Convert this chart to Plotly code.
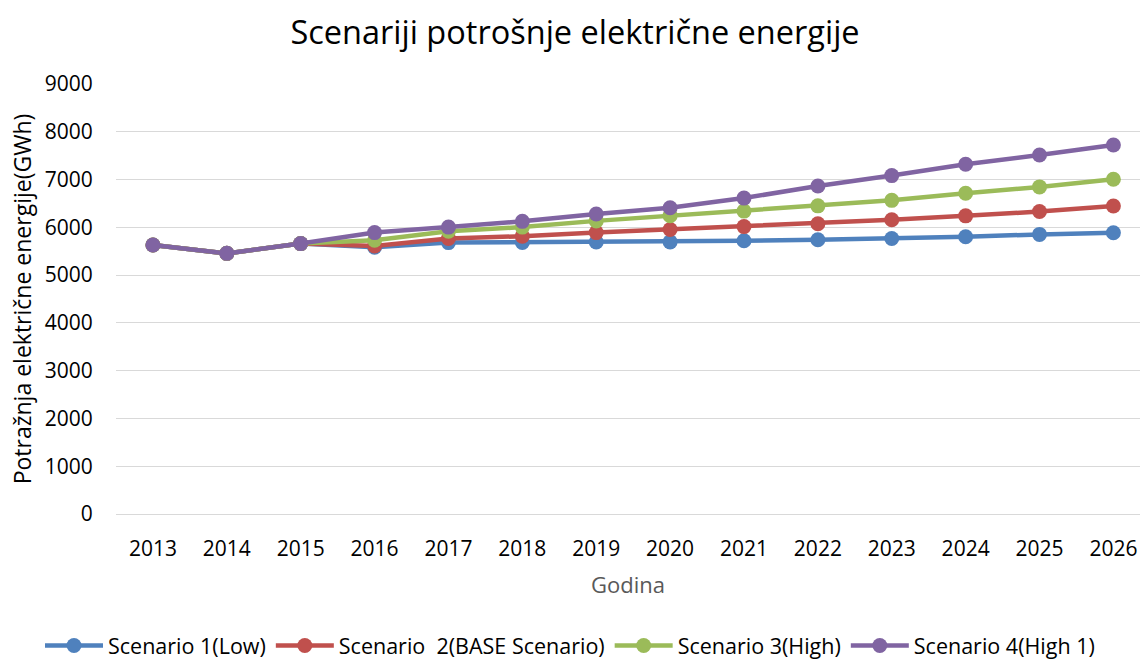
import plotly.graph_objects as go

years = [2013, 2014, 2015, 2016, 2017, 2018, 2019, 2020, 2021, 2022, 2023, 2024, 2025, 2026]
low = [5630, 5455, 5660, 5585, 5680, 5685, 5692, 5695, 5720, 5740, 5765, 5802, 5852, 5888]
base = [5630, 5455, 5660, 5610, 5765, 5815, 5890, 5955, 6015, 6075, 6160, 6240, 6330, 6445]
high = [5630, 5455, 5660, 5730, 5920, 6005, 6135, 6245, 6340, 6450, 6565, 6712, 6846, 7005]
high1 = [5630, 5455, 5660, 5890, 6005, 6125, 6280, 6410, 6612, 6866, 7083, 7320, 7515, 7722]

names = ["Scenario 1(Low)", "Scenario  2(BASE Scenario)", "Scenario 3(High)", "Scenario 4(High 1)"]
series = [low, base, high, high1]
colors = ["#4F81BD", "#C0504D", "#9BBB59", "#8064A2"]

FONT = "Open Sans"
W, H = 1140, 668
L, T, B, R = 116, 84, 154, 0
PW, PH = W - L - R, H - T - B

fig = go.Figure()
for name, vals, c in zip(names, series, colors):
    fig.add_trace(go.Scatter(
        x=years, y=vals, name=name, mode="lines+markers",
        line=dict(color=c, width=4.5),
        marker=dict(color=c, size=15),
    ))

fig.update_layout(
    width=W, height=H,
    paper_bgcolor="white", plot_bgcolor="white",
    margin=dict(l=L, r=R, t=T, b=B, pad=0),
    font=dict(family=FONT, size=20, color="#000000"),
    title=dict(text="Scenariji potrošnje električne energije", x=575 / W, xanchor="center",
               y=1 - 33 / H, yanchor="middle", font=dict(family=FONT, size=32.5, color="#000000")),
    xaxis=dict(
        range=[2012.5, 2026.36], tickmode="array", tickvals=years,
        ticktext=[str(y) for y in years],
        showgrid=False, showline=True, linecolor="#D9D9D9", linewidth=1.3,
        ticks="outside", ticklen=16, tickcolor="rgba(0,0,0,0)",
        tickfont=dict(family=FONT, size=21, color="#000000"),
        title=dict(text="Godina", standoff=16, font=dict(family=FONT, size=22, color="#595959")),
        zeroline=False, fixedrange=True,
    ),
    yaxis=dict(
        range=[0, 9000], tickmode="array", tickvals=list(range(0, 9001, 1000)),
        showgrid=True, gridcolor="#D9D9D9", gridwidth=1.3,
        zeroline=False, showline=False,
        ticks="outside", ticklen=18, tickcolor="rgba(0,0,0,0)",
        tickfont=dict(family=FONT, size=21, color="#000000"),
        title=dict(text="Potražnja električne energije(GWh)", standoff=6,
                   font=dict(family=FONT, size=23, color="#000000")),
    ),
    legend=dict(orientation="h", x=(40 - L) / PW, xref="paper", xanchor="left",
                y=(H - B - 625) / PH, yanchor="top",
                font=dict(family=FONT, size=21.5, color="#000000"),
                itemwidth=58, traceorder="normal"),
    showlegend=True,
)

fig.write_html("out.html", config={"displayModeBar": False},
               post_script="document.body.style.margin='0';")
